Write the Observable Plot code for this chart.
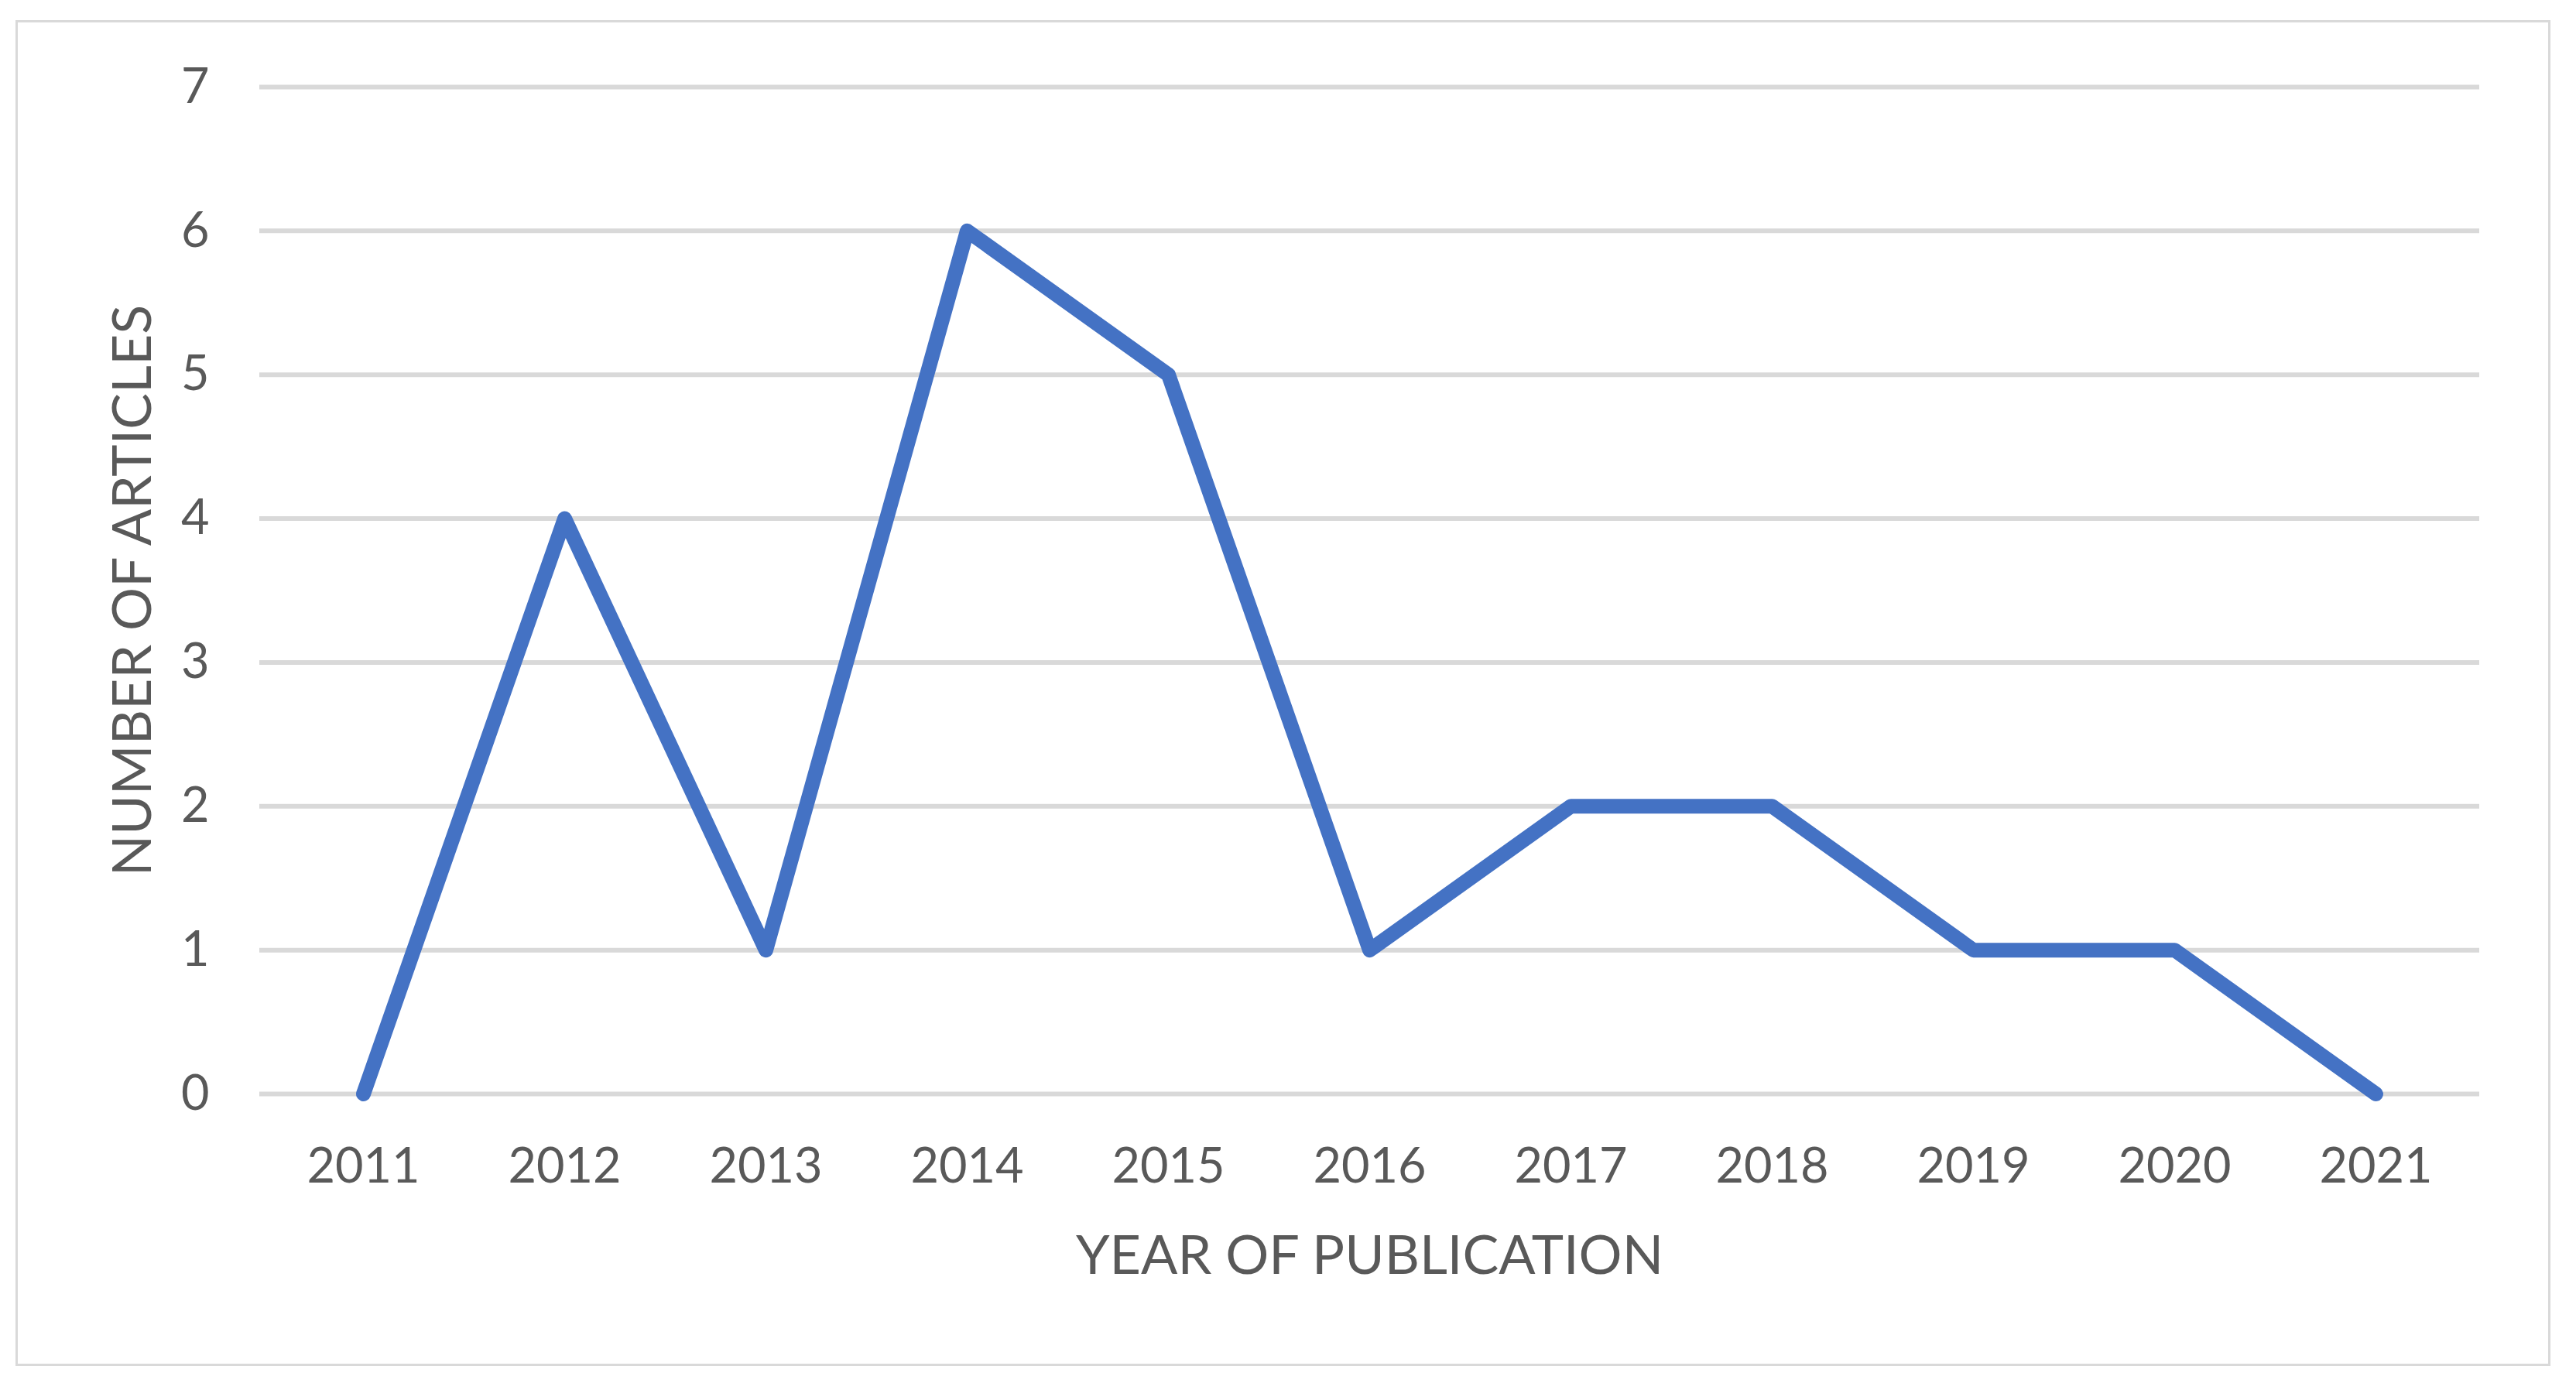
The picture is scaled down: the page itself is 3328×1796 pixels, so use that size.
<!DOCTYPE html>
<html><head><meta charset="utf-8">
<script src="https://cdn.jsdelivr.net/npm/d3@7"></script>
<script src="https://cdn.jsdelivr.net/npm/@observablehq/plot@0.6"></script>
<style>
html,body{margin:0;padding:0;background:#fff;}
#wrap{position:relative;width:3328px;height:1796px;}
#wrap svg{display:block;}
#border{position:absolute;left:20px;top:26px;width:3275px;height:1739px;border:3px solid #d9d9d9;box-sizing:border-box;pointer-events:none;}
</style></head><body><div id="wrap"></div>
<script>
const years = ["2011","2012","2013","2014","2015","2016","2017","2018","2019","2020","2021"];
const counts = [0,4,1,6,5,1,2,2,1,1,0];
const yTicks = [0,1,2,3,4,5,6,7];
const xTitle = "YEAR OF PUBLICATION";
const yTitle = "NUMBER OF ARTICLES";
const data = years.map((year,i)=>({year, count: counts[i]}));
const textColor = "#595959";
const chart = Plot.plot({
  width:3328, height:1796, marginLeft:335, marginRight:125, marginTop:112, marginBottom:383,
  style:{fontFamily:"Lato", fontSize:"63px", color:textColor, background:"transparent", overflow:"visible"},
  x:{type:"point", domain:years, padding:0.5, label:null},
  y:{domain:[0,7], label:null},
  marks:[
    Plot.ruleY(yTicks,{stroke:"#d9d9d9", strokeWidth:6}),
    Plot.axisY({ticks:yTicks, tickFormat:d3.format("d"), tickSize:0, tickPadding:65, fontSize:63, fill:textColor, label:null}),
    Plot.axisX({tickSize:0, tickPadding:70, fontSize:63, fill:textColor, label:null}),
    Plot.line(data,{x:"year", y:"count", stroke:"#4472C4", strokeWidth:19, strokeLinecap:"round", strokeLinejoin:"round"}),
    Plot.text([xTitle],{text:d=>d, frameAnchor:"bottom", dy:210, fontSize:70, fill:textColor, lineAnchor:"middle", textAnchor:"middle"}),
    Plot.text([yTitle],{text:d=>d, frameAnchor:"left", dx:-163, rotate:-90, fontSize:70, fill:textColor, lineAnchor:"middle", textAnchor:"middle"})
  ]
});
const wrap = document.getElementById("wrap");
wrap.appendChild(chart);
const b = document.createElement("div"); b.id = "border"; wrap.appendChild(b);
</script></body></html>
